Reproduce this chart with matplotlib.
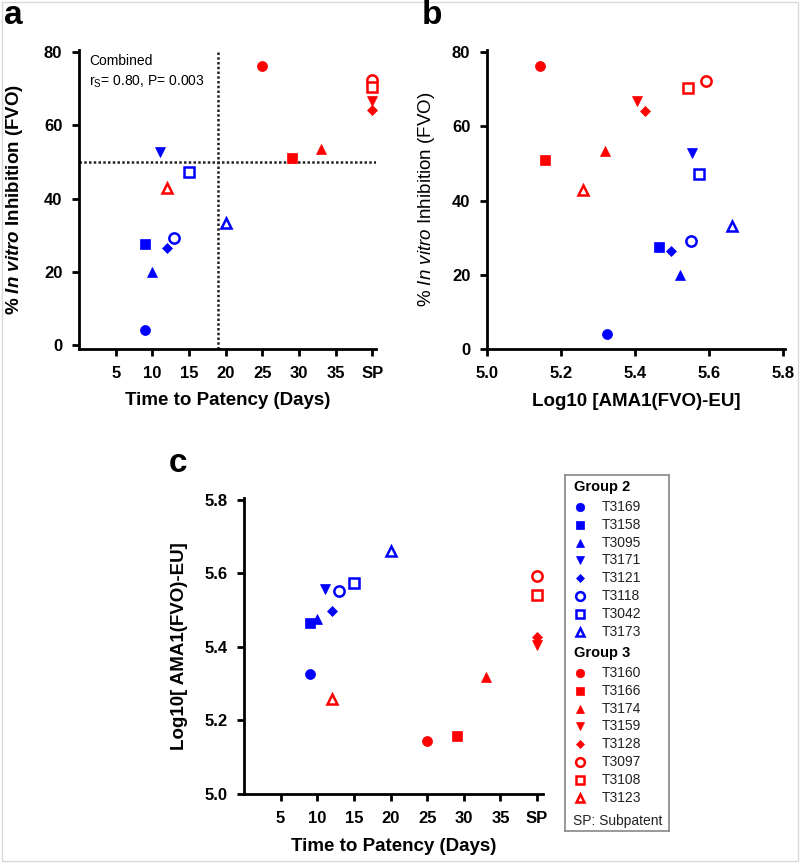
import matplotlib
matplotlib.use("Agg")
import matplotlib.pyplot as plt
from matplotlib.patches import Rectangle

plt.rcParams['font.family'] = ['Liberation Sans', 'DejaVu Sans']
plt.rcParams['mathtext.fontset'] = 'custom'
plt.rcParams['mathtext.rm'] = 'Liberation Sans'
plt.rcParams['mathtext.it'] = 'Liberation Sans:italic'
plt.rcParams['mathtext.bf'] = 'Liberation Sans:bold'
plt.rcParams['mathtext.bfit'] = 'Liberation Sans:italic:bold'

# data: group 2 (blue) then group 3 (red)
subjects = ["T3169", "T3158", "T3095", "T3171", "T3121", "T3118", "T3042", "T3173",
            "T3160", "T3166", "T3174", "T3159", "T3128", "T3097", "T3108", "T3123"]
groups = ["Group 2"] * 8 + ["Group 3"] * 8
patency = [9, 9, 10, 11, 12, 13, 15, 20,
           25, 29, 33, "SP", "SP", "SP", "SP", 12]
inhibition = [4.0, 27.5, 20.0, 52.8, 26.5, 29.2, 47.2, 33.2,
              76.3, 51.0, 53.5, 66.8, 64.1, 72.3, 70.4, 42.9]
log_eu = [5.325, 5.465, 5.522, 5.555, 5.498, 5.551, 5.574, 5.663,
          5.143, 5.158, 5.319, 5.405, 5.426, 5.592, 5.542, 5.259]
# panel c as drawn (T3095 sits a bit lower there)
log_eu_c = [5.326, 5.466, 5.477, 5.558, 5.499, 5.552, 5.573, 5.662,
            5.143, 5.158, 5.318, 5.406, 5.427, 5.593, 5.542, 5.259]
x_ticks = [5, 10, 15, 20, 25, 30, 35, 40]
x_ticklabels = ["5", "10", "15", "20", "25", "30", "35", "SP"]
sp_pos = 40
cutoff_inhib = 50
cutoff_days = 19

# styles
group_colors = {"Group 2": "#0000ff", "Group 3": "#ff0000"}
shapes = [("o", 7.2, True), ("s", 6.6, True), ("^", 7.0, True), ("v", 7.0, True),
          ("D", 4.6, True), ("o", 7.4, False), ("s", 7.0, False), ("^", 7.6, False)]

xpos = [sp_pos if t == "SP" else t for t in patency]

W, H = 800, 865
fig = plt.figure(figsize=(W / 100, H / 100), dpi=100)


def px_axes(l, t, r, b):
    return fig.add_axes([l / W, 1 - b / H, (r - l) / W, (b - t) / H])


def style_axes(ax):
    for s in ["top", "right"]:
        ax.spines[s].set_visible(False)
    for s in ["left", "bottom"]:
        ax.spines[s].set_linewidth(2)
    ax.tick_params(width=2, length=5, labelsize=12, pad=7)
    for lab in ax.get_xticklabels() + ax.get_yticklabels():
        lab.set_fontweight("bold")


def draw_points(ax, xs, ys):
    for i in range(len(subjects)):
        m, ms, filled = shapes[i % 8]
        c = group_colors[groups[i]]
        ax.plot(xs[i], ys[i], linestyle="none", marker=m, markersize=ms,
                color=c, markerfacecolor=c if filled else "white",
                markeredgewidth=0.5 if filled else 1.8, clip_on=False, zorder=3)


# ---- panel a
axa = px_axes(79, 50, 376, 349)
draw_points(axa, xpos, inhibition)
axa.axhline(cutoff_inhib, color="#222222", ls=(0, (1, 0.9)), lw=1.8)
axa.axvline(cutoff_days, color="#222222", ls=(0, (1, 0.9)), lw=1.8)
axa.set_xlim(0, 40.5)
axa.set_ylim(-1.1, 80.6)
axa.set_xticks(x_ticks)
axa.set_xticklabels(x_ticklabels)
axa.set_yticks([0, 20, 40, 60, 80])
axa.set_xlabel("Time to Patency (Days)", fontsize=13.5, fontweight="bold", labelpad=8)
axa.set_ylabel(r"% $\mathbfit{In\ vitro}$ Inhibition (FVO)", fontsize=13.5,
               fontweight="bold", labelpad=14)
axa.text(0.035, 0.985, "Combined\n" + r"r$_\mathregular{S}$= 0.80, P= 0.003",
         transform=axa.transAxes, va="top", ha="left", fontsize=10, linespacing=1.4)
style_axes(axa)

# ---- panel b
axb = px_axes(487, 50, 785, 349)
draw_points(axb, log_eu, inhibition)
axb.set_xlim(5.0, 5.805)
axb.set_ylim(0, 80.6)
axb.set_xticks([5.0, 5.2, 5.4, 5.6, 5.8])
axb.set_xticklabels(["5.0", "5.2", "5.4", "5.6", "5.8"])
axb.set_yticks([0, 20, 40, 60, 80])
axb.set_xlabel("Log10 [AMA1(FVO)-EU]", fontsize=13.5, fontweight="bold", labelpad=9)
axb.set_ylabel(r"% $\mathit{In\ vitro}$ Inhibition (FVO)", fontsize=13.5, labelpad=11)
style_axes(axb)

# ---- panel c
axc = px_axes(244, 498, 543, 794)
draw_points(axc, xpos, log_eu_c)
axc.set_xlim(0, 40.8)
axc.set_ylim(5.0, 5.805)
axc.set_xticks(x_ticks)
axc.set_xticklabels(x_ticklabels)
axc.set_yticks([5.0, 5.2, 5.4, 5.6, 5.8])
axc.set_yticklabels(["5.0", "5.2", "5.4", "5.6", "5.8"])
axc.set_xlabel("Time to Patency (Days)", fontsize=13.5, fontweight="bold", labelpad=9)
axc.set_ylabel("Log10[ AMA1(FVO)-EU]", fontsize=13.5, fontweight="bold", labelpad=12)
style_axes(axc)

# ---- legend box
axl = px_axes(565, 475, 669, 831)
axl.set_xlim(0, 104)
axl.set_ylim(356, 0)
axl.set_xticks([])
axl.set_yticks([])
for s in axl.spines.values():
    s.set_edgecolor("#888888")
    s.set_linewidth(1.2)
for g, name in enumerate(["Group 2", "Group 3"]):
    head_y = 12 + g * 166
    axl.text(9, head_y, name, fontsize=10.5, fontweight="bold", va="center", ha="left")
    idx = [i for i in range(len(subjects)) if groups[i] == name]
    for k, i in enumerate(idx):
        y = head_y + 20 + 17.8 * k
        m, ms, filled = shapes[i % 8]
        c = group_colors[name]
        axl.plot(15, y, linestyle="none", marker=m, markersize=ms * 0.85, color=c,
                 markerfacecolor=c if filled else "white",
                 markeredgewidth=0.5 if filled else 1.8)
        axl.text(37, y, subjects[i], fontsize=10, va="center", ha="left", color="#222222")
axl.text(8, 346, "SP: Subpatent", fontsize=10, va="center", ha="left", color="#222222")

# panel letters
fig.text(13 / W, 1 - 16 / H, "a", fontsize=24, fontweight="bold", ha="center", va="center")
fig.text(432 / W, 1 - 16 / H, "b", fontsize=24, fontweight="bold", ha="center", va="center")
fig.text(178 / W, 1 - 463 / H, "c", fontsize=24, fontweight="bold", ha="center", va="center")

fig.patches.append(Rectangle((2 / W, 4 / H), 796 / W, 859 / H, transform=fig.transFigure,
                             fill=False, edgecolor="#d8d8d8", lw=1))

fig.savefig("out.png", dpi=100)
